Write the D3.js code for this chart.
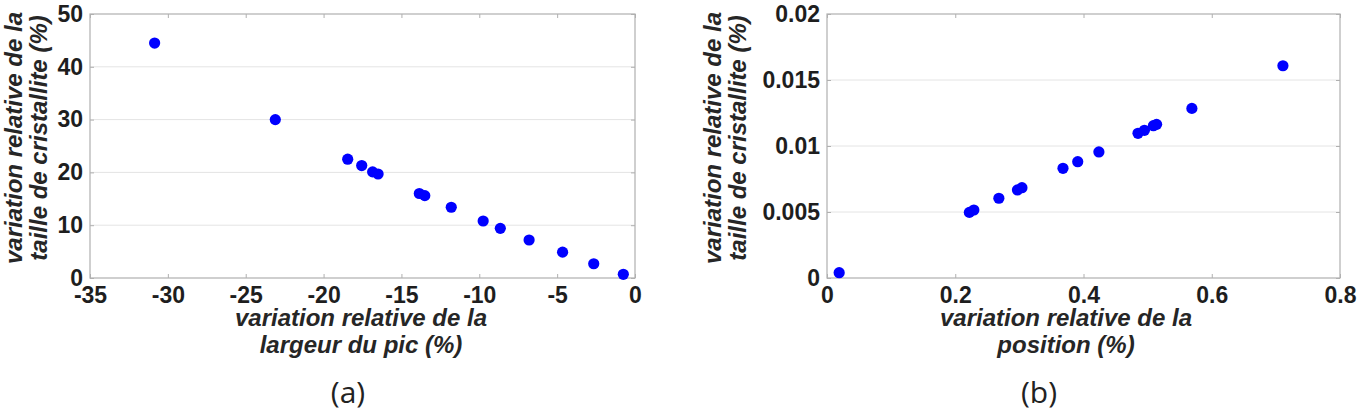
<!DOCTYPE html>
<html>
<head>
<meta charset="utf-8">
<script src="https://cdn.jsdelivr.net/npm/d3@7"></script>
<style>
  html, body { margin: 0; padding: 0; background: #ffffff; }
  svg { display: block; }
</style>
</head>
<body>
<div id="chart"></div>
<script>
// panel (a): peak width variation vs crystallite size variation
const widthX = [-30.85, -23.1, -18.45, -17.55, -16.85, -16.5, -13.85, -13.5, -11.8, -9.75, -8.65, -6.8, -4.65, -2.65, -0.75];
const widthY = [44.5, 30.0, 22.5, 21.3, 20.1, 19.7, 16.0, 15.6, 13.4, 10.8, 9.4, 7.2, 4.9, 2.7, 0.7];
const widthXTicks = [-35, -30, -25, -20, -15, -10, -5, 0];
const widthYTicks = [0, 10, 20, 30, 40, 50];

// panel (b): position variation vs crystallite size variation
const posX = [0.019, 0.222, 0.229, 0.268, 0.297, 0.304, 0.368, 0.391, 0.424, 0.485, 0.495, 0.509, 0.514, 0.569, 0.711];
const posY = [0.0004, 0.00497, 0.00515, 0.00604, 0.00667, 0.00684, 0.00831, 0.00881, 0.00955, 0.01096, 0.01119, 0.01154, 0.01164, 0.01285, 0.01608];
const posXTicks = [0, 0.2, 0.4, 0.6, 0.8];
const posYTicks = [0, 0.005, 0.01, 0.015, 0.02];

const yTitle = ["variation relative de la", "taille de cristallite (%)"];

const width = 1357;
const height = 417;
const font = "Liberation Sans, Arial, sans-serif";

const svg = d3.select("#chart")
  .append("svg")
  .attr("width", width)
  .attr("height", height);

function drawPanel(opts) {
  const { left, right, top, bottom, xs, ys, xTicks, yTicks, xTitle, tag } = opts;

  const x = d3.scaleLinear().domain(d3.extent(xTicks)).range([left, right]);
  const y = d3.scaleLinear().domain(d3.extent(yTicks)).range([bottom, top]);
  const fmt = d => String(d);

  const g = svg.append("g");

  // horizontal grid
  g.append("g")
    .selectAll("line")
    .data(yTicks.slice(1, -1))
    .join("line")
    .attr("x1", left)
    .attr("x2", right)
    .attr("y1", d => y(d))
    .attr("y2", d => y(d))
    .attr("stroke", "#e4e4e4")
    .attr("stroke-width", 1);

  // frame
  g.append("rect")
    .attr("x", left)
    .attr("y", top)
    .attr("width", right - left)
    .attr("height", bottom - top)
    .attr("fill", "none")
    .attr("stroke", "#b0b0b0")
    .attr("stroke-width", 1.2);

  const styleAxis = sel => {
    sel.select(".domain").remove();
    sel.selectAll(".tick line").attr("stroke", "#b0b0b0");
  };

  g.append("g")
    .attr("transform", `translate(0,${bottom})`)
    .call(d3.axisBottom(x).tickValues(xTicks).tickFormat(fmt).tickSizeInner(-4).tickPadding(9))
    .call(styleAxis)
    .selectAll("text")
    .attr("font-family", font)
    .attr("font-size", 23)
    .attr("font-weight", 700)
    .attr("fill", "#1e1e1e");

  g.append("g")
    .attr("transform", `translate(0,${top})`)
    .call(d3.axisTop(x).tickValues(xTicks).tickFormat("").tickSizeInner(-4))
    .call(styleAxis);

  g.append("g")
    .attr("transform", `translate(${left},0)`)
    .call(d3.axisLeft(y).tickValues(yTicks).tickFormat(fmt).tickSizeInner(-4).tickPadding(7))
    .call(styleAxis)
    .selectAll("text")
    .attr("font-family", font)
    .attr("font-size", 23)
    .attr("font-weight", 700)
    .attr("fill", "#1e1e1e");

  g.append("g")
    .attr("transform", `translate(${right},0)`)
    .call(d3.axisRight(y).tickValues(yTicks).tickFormat("").tickSizeInner(-4))
    .call(styleAxis);

  // points
  g.append("g")
    .selectAll("circle")
    .data(xs.map((v, i) => [v, ys[i]]))
    .join("circle")
    .attr("cx", d => x(d[0]))
    .attr("cy", d => y(d[1]))
    .attr("r", 5.6)
    .attr("fill", "#0000ff");

  // x title
  const xt = g.append("text")
    .attr("text-anchor", "middle")
    .attr("font-family", font)
    .attr("font-size", 24)
    .attr("font-weight", 700)
    .attr("font-style", "italic")
    .attr("fill", "#262626");
  xTitle.forEach((t, i) => {
    xt.append("tspan")
      .attr("x", opts.xTitleX)
      .attr("y", 326 + i * 27)
      .text(t);
  });

  // y title
  const yt = g.append("text")
    .attr("transform", `translate(${opts.yTitleX},${opts.yTitleY}) rotate(-90)`)
    .attr("text-anchor", "middle")
    .attr("font-family", font)
    .attr("font-size", 24)
    .attr("font-weight", 700)
    .attr("font-style", "italic")
    .attr("fill", "#262626");
  yTitle.forEach((t, i) => {
    yt.append("tspan")
      .attr("x", 0)
      .attr("y", i * 25)
      .text(t);
  });

  g.append("text")
    .attr("x", opts.tagX)
    .attr("y", 403)
    .attr("text-anchor", "middle")
    .attr("font-family", "Open Sans, sans-serif")
    .attr("font-size", 30)
    .attr("fill", "#222222")
    .text(tag);
}

drawPanel({
  left: 90, right: 635, top: 14, bottom: 278,
  xs: widthX, ys: widthY,
  xTicks: widthXTicks, yTicks: widthYTicks,
  xTitle: ["variation relative de la", "largeur du pic (%)"],
  xTitleX: 361, yTitleX: 22, yTitleY: 138,
  tag: "(a)", tagX: 348
});

drawPanel({
  left: 827, right: 1340, top: 14, bottom: 278,
  xs: posX, ys: posY,
  xTicks: posXTicks, yTicks: posYTicks,
  xTitle: ["variation relative de la", "position (%)"],
  xTitleX: 1066, yTitleX: 721, yTitleY: 138,
  tag: "(b)", tagX: 1039
});
</script>
</body>
</html>
